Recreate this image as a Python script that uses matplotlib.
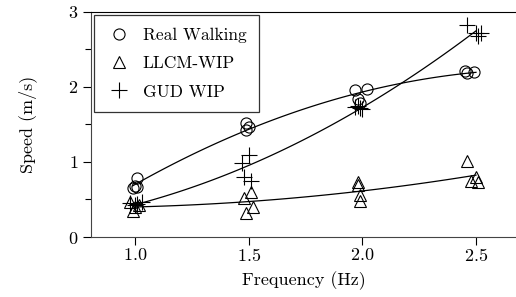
import numpy as np
import matplotlib
matplotlib.use("Agg")
import matplotlib.pyplot as plt
from matplotlib.ticker import MultipleLocator

plt.rcParams['font.family'] = 'serif'
plt.rcParams['font.serif'] = ['cmr10']
plt.rcParams['mathtext.fontset'] = 'cm'
plt.rcParams['axes.formatter.use_mathtext'] = True

# Real Walking (circles)
rw_x = [1.01, 1.00, 0.99, 1.01, 1.49, 1.50, 1.49, 1.97, 1.98, 1.99, 2.02, 2.45, 2.49, 2.46]
rw_y = [0.78, 0.68, 0.65, 0.66, 1.52, 1.47, 1.42, 1.96, 1.84, 1.79, 1.97, 2.21, 2.20, 2.19]

# LLCM-WIP (triangles)
ll_x = [0.98, 1.00, 1.02, 0.99, 1.51, 1.48, 1.52, 1.49, 1.98, 1.98, 1.99, 1.99, 2.46, 2.50, 2.48, 2.51]
ll_y = [0.46, 0.40, 0.42, 0.34, 0.60, 0.52, 0.40, 0.32, 0.73, 0.69, 0.56, 0.48, 1.01, 0.80, 0.74, 0.73]

# GUD WIP (plus)
gud_x = [0.98, 1.00, 1.03, 1.01, 1.50, 1.47, 1.48, 1.51, 1.98, 1.99, 2.00, 1.97, 2.46, 2.50, 2.52, 2.51]
gud_y = [0.45, 0.42, 0.47, 0.44, 1.09, 0.99, 0.80, 0.75, 1.75, 1.72, 1.70, 1.73, 2.83, 2.72, 2.72, 2.68]

fig = plt.figure(figsize=(5.16, 2.97), dpi=100)
ax = fig.add_axes([0.176, 0.202, 0.824, 0.758])

xs = np.linspace(0.99, 2.5, 100)
for x, y in [(rw_x, rw_y), (ll_x, ll_y), (gud_x, gud_y)]:
    p = np.polyfit(x, y, 2)
    ax.plot(xs, np.polyval(p, xs), color='black', lw=0.9)

ax.plot(rw_x, rw_y, 'o', ms=8, mfc='none', mec='black', mew=0.8, ls='none', label='Real Walking')
ax.plot(ll_x, ll_y, '^', ms=8.5, mfc='none', mec='black', mew=0.8, ls='none', label='LLCM-WIP')
ax.plot(gud_x, gud_y, '+', ms=11, mec='black', mew=0.8, ls='none', label='GUD WIP')

ax.set_xlim(0.806, 2.676)
ax.set_ylim(0, 3)
ax.set_xticks([1.0, 1.5, 2.0, 2.5])
ax.set_yticks([0, 1, 2, 3])
ax.yaxis.set_minor_locator(MultipleLocator(0.5))
ax.tick_params(direction='out', length=6, width=0.8, labelsize=13, pad=3)
ax.tick_params(axis='x', pad=1.5)
ax.tick_params(which='minor', direction='out', length=4, width=0.8)
ax.spines['right'].set_visible(False)
for s in ['left', 'bottom']:
    ax.spines[s].set_color('#444444')

ax.set_xlabel('Frequency (Hz)', fontsize=13, labelpad=5)
ax.set_ylabel('Speed (m/s)', fontsize=13, labelpad=22)

leg = ax.legend(loc='upper left', fontsize=12.5, frameon=True, fancybox=False,
                edgecolor='black', borderaxespad=0.2, borderpad=0.7,
                labelspacing=0.75, handlelength=1.4, handletextpad=0.7)
leg.get_frame().set_linewidth(0.9)

fig.savefig('out.png', dpi=100)
